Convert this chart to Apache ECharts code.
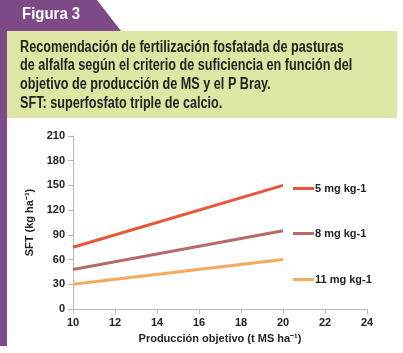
<!DOCTYPE html>
<html>
<head>
<meta charset="utf-8">
<script src="https://cdn.jsdelivr.net/npm/echarts@6/dist/echarts.min.js"></script>
<style>
  html, body { margin: 0; padding: 0; background: #fff; }
  #main { width: 403px; height: 353px; }
</style>
</head>
<body>
<div id="main"></div>
<script>
// datos
var produccion = [10, 20];
var serieNombres = ['5 mg kg-1', '8 mg kg-1', '11 mg kg-1'];
var sft5 = [75, 150];
var sft8 = [48, 95];
var sft11 = [30, 60];
var colores = ['#e9573a', '#b76a6c', '#f6a95c'];

var myChart = echarts.init(document.getElementById('main'));

function pares(ys) {
    return produccion.map(function (x, i) { return [x, ys[i]]; });
}

var titulo = [
    'Recomendación de fertilización fosfatada de pasturas',
    'de alfalfa según el criterio de suficiencia en función del',
    'objetivo de producción de MS y el P Bray.',
    'SFT: superfosfato triple de calcio.'
].join('\n');

var fuente = '"Liberation Sans", Arial, sans-serif';

myChart.setOption({
    backgroundColor: '#fff',
    animation: false,
    textStyle: { fontFamily: fuente },
    graphic: [
        // franja lateral morada
        { type: 'rect', shape: { x: 0, y: 0, width: 7, height: 346 }, style: { fill: '#7d4a87' } },
        // pestaña "Figura 3"
        { type: 'polygon', shape: { points: [[0, 0], [97, 0], [121, 31], [0, 31]] }, style: { fill: '#7d4a87' } },
        { type: 'text', x: 22, y: 6, scaleX: 0.88, style: { text: 'Figura 3', fill: '#fff', font: 'bold 17px ' + fuente } },
        // recuadro verde
        { type: 'rect', shape: { x: 7, y: 31, width: 390, height: 87 }, style: { fill: '#dfe6a4' } },
        { type: 'text', x: 20, y: 38, scaleX: 0.79, style: { text: titulo, fill: '#222', font: 'bold 16px ' + fuente, lineHeight: 18.7 } }
    ],
    grid: { left: 73, right: 36, top: 136, bottom: 44 },
    legend: serieNombres.map(function (n, i) {
        return {
            data: [n], left: 288, top: [178, 223, 269][i],
            icon: 'rect', itemWidth: 21, itemHeight: 3, itemGap: 0,
            textStyle: { fontSize: 11, fontWeight: 'bold', color: '#222', padding: [0, 0, 0, -4] }
        };
    }),
    xAxis: {
        type: 'value', min: 10, max: 24, interval: 2,
        name: 'Producción objetivo (t MS ha⁻¹)', nameLocation: 'middle', nameGap: 24,
        nameTextStyle: { fontSize: 11, fontWeight: 'bold', color: '#222' },
        axisLine: { lineStyle: { color: '#bbb' } },
        axisTick: { lineStyle: { color: '#bbb' } },
        axisLabel: { fontSize: 11, fontWeight: 'bold', color: '#222', margin: 8 },
        splitLine: { show: false }
    },
    yAxis: {
        type: 'value', min: 0, max: 210, interval: 30,
        name: 'SFT (kg ha⁻¹)', nameLocation: 'middle', nameGap: 38,
        nameTextStyle: { fontSize: 11, fontWeight: 'bold', color: '#222' },
        axisLine: { show: true, lineStyle: { color: '#bbb' } },
        axisTick: { show: true, lineStyle: { color: '#bbb' } },
        axisLabel: { fontSize: 11, fontWeight: 'bold', color: '#222', margin: 8 },
        splitLine: { show: false }
    },
    series: [sft5, sft8, sft11].map(function (ys, i) {
        return {
            name: serieNombres[i], type: 'line', data: pares(ys),
            symbol: 'none', color: colores[i],
            lineStyle: { width: 3, color: colores[i] }
        };
    })
});
</script>
</body>
</html>
